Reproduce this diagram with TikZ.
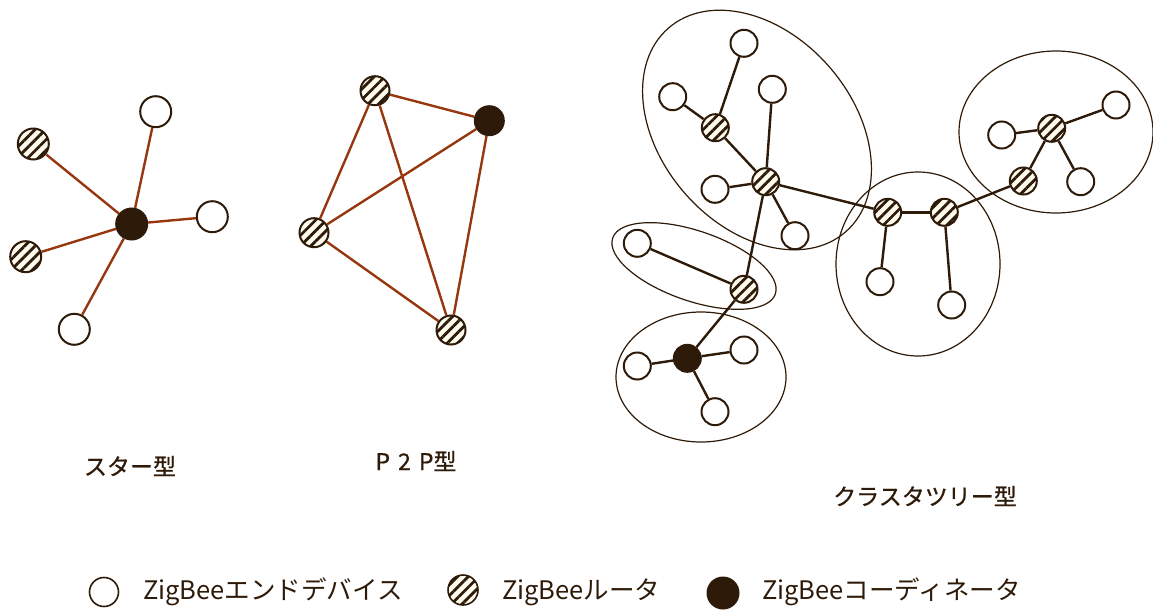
\documentclass[tikz,border=0pt]{standalone}
\usepackage{fontspec}
\setmainfont{Noto Sans CJK JP}
\newfontfamily\titlefont{Noto Sans CJK JP}[FakeBold=0.8]
\usetikzlibrary{patterns.meta}
\definecolor{dkbrown}{RGB}{46,26,8}
\definecolor{rust}{RGB}{150,55,15}
\definecolor{ivory}{RGB}{253,251,238}
\tikzset{
  nd/.style={circle, draw=dkbrown, line width=2pt, inner sep=0pt, minimum size=27pt},
  enddev/.style={nd, fill=white},
  router/.style={nd, preaction={fill=ivory}, pattern={Lines[angle=45,distance=7.5pt,line width=2.8pt]}, pattern color=dkbrown},
  coordn/.style={nd, fill=dkbrown},
  bigsz/.style={minimum size=31pt},
  midsz/.style={minimum size=29pt},
  starline/.style={draw=rust, line width=2.4pt},
  treeline/.style={draw=dkbrown, line width=2.4pt},
  grp/.style={draw=dkbrown, line width=1.2pt},
  lbl/.style={text=dkbrown, font=\titlefont\fontsize{23pt}{26pt}\selectfont, inner sep=0pt},
  lgd/.style={text=dkbrown, font=\fontsize{25.5pt}{28pt}\selectfont, inner sep=0pt, anchor=west},
}
\begin{document}
\begin{tikzpicture}[x=1pt,y=-1pt]
\useasboundingbox (0,0) rectangle (1153,610);
% ---- group ellipses
\draw[grp, rotate around={-49:(757,130)}] (757,130) ellipse [x radius=135pt, y radius=96pt];
\draw[grp, rotate around={-19:(694,266)}] (694,266) ellipse [x radius=86pt, y radius=35pt];
\draw[grp] (701,377) ellipse [x radius=85pt, y radius=65pt];
\draw[grp] (918,264) ellipse [x radius=82pt, y radius=92pt];
\draw[grp] (1056,132) ellipse [x radius=97pt, y radius=81pt];
% ---- star
\node[coordn,bigsz] (sc) at (131.7,224) {};
\node[router,bigsz] (sr1) at (33.3,144) {};
\node[router,bigsz] (sr2) at (25.7,256.7) {};
\node[enddev,bigsz] (se1) at (155.7,111.7) {};
\node[enddev,bigsz] (se2) at (212.3,216.7) {};
\node[enddev,bigsz] (se3) at (74.3,329.3) {};
\foreach \t in {sr1,sr2,se1,se2,se3} \draw[starline] (sc) -- (\t);
% ---- P2P
\node[router,midsz] (pr1) at (375,90.7) {};
\node[coordn,midsz] (pc) at (489.3,120.7) {};
\node[router,midsz] (pr2) at (314,232.7) {};
\node[router,midsz] (pr3) at (451,330) {};
\draw[starline] (pr1) -- (pc);
\draw[starline] (pr1) -- (pr2);
\draw[starline] (pr1) -- (pr3);
\draw[starline] (pc) -- (pr2);
\draw[starline] (pc) -- (pr3);
\draw[starline] (pr2) -- (pr3);
% ---- cluster tree
\node[router] (ta) at (715.3,127.7) {};
\node[router] (tb) at (765.7,181.7) {};
\node[enddev] (e1) at (744,43.3) {};
\node[enddev] (e2) at (672.7,96.7) {};
\node[enddev] (e3) at (772.3,89.3) {};
\node[enddev] (e4) at (715,189.3) {};
\node[enddev] (e5) at (795,235.7) {};
\node[router] (tc) at (887.7,212.3) {};
\node[router] (td) at (944.3,212.3) {};
\node[enddev] (e6) at (880,281.7) {};
\node[enddev] (e7) at (951.7,305) {};
\node[router] (te) at (1023.3,181) {};
\node[router] (tf) at (1051.7,128.3) {};
\node[enddev] (e8) at (1001.7,135) {};
\node[enddev] (e9) at (1116,105) {};
\node[enddev] (e10) at (1080.7,181.7) {};
\node[router] (tg) at (744,289.3) {};
\node[enddev] (e11) at (637.3,243.3) {};
\node[coordn] (cc) at (687.3,358.3) {};
\node[enddev] (e12) at (637.3,366) {};
\node[enddev] (e13) at (744,350) {};
\node[enddev] (e14) at (715,411.7) {};
\draw[treeline] (ta) -- (e1);
\draw[treeline] (ta) -- (e2);
\draw[treeline] (ta) -- (tb);
\draw[treeline] (tb) -- (e3);
\draw[treeline] (tb) -- (e4);
\draw[treeline] (tb) -- (e5);
\draw[treeline] (tb) -- (tc);
\draw[treeline] (tb) -- (tg);
\draw[treeline] (tc) -- (td);
\draw[treeline] (tc) -- (e6);
\draw[treeline] (td) -- (e7);
\draw[treeline] (td) -- (te);
\draw[treeline] (te) -- (tf);
\draw[treeline] (tf) -- (e8);
\draw[treeline] (tf) -- (e9);
\draw[treeline] (tf) -- (e10);
\draw[treeline] (tg) -- (e11);
\draw[treeline] (tg) -- (cc);
\draw[treeline] (cc) -- (e12);
\draw[treeline] (cc) -- (e13);
\draw[treeline] (cc) -- (e14);
% ---- titles
\node[lbl] (t1) at (130,466) {スター型};
\node[lbl] (t2) at (416,461) {P\hspace{0.35em}2\hspace{0.35em}P型};
\node[lbl] (t3) at (925,496) {クラスタツリー型};
% ---- legend
\node[enddev, line width=1.6pt, minimum size=29pt] (l1) at (104,592) {};
\node[lgd] (l1t) at (143,592) {ZigBeeエンドデバイス};
\node[router, line width=1.6pt, minimum size=30pt] (l2) at (463,590) {};
\node[lgd] (l2t) at (502,592) {ZigBeeルータ};
\node[coordn, minimum size=31pt] (l3) at (723,593) {};
\node[lgd] (l3t) at (762,592) {ZigBeeコーディネータ};
\end{tikzpicture}
\end{document}
